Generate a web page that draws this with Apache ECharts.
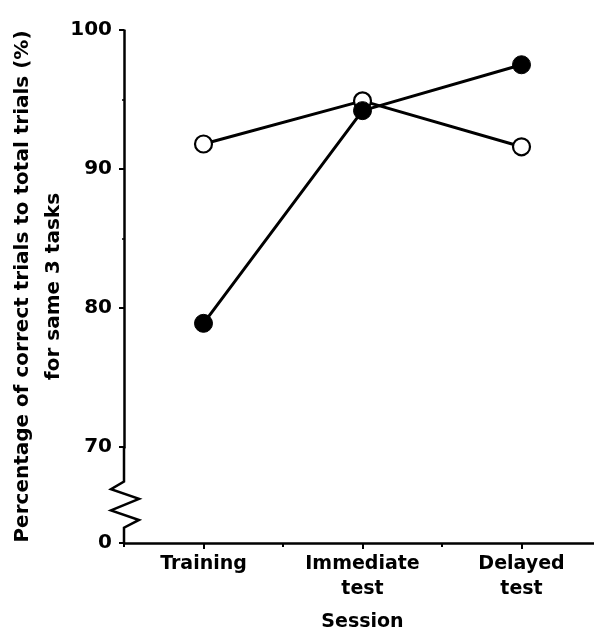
<!DOCTYPE html>
<html><head><meta charset="utf-8">
<script src="https://cdn.jsdelivr.net/npm/echarts@6/dist/echarts.min.js"></script>
<style>html,body{margin:0;padding:0;background:#fff}#c{width:594px;height:632px}</style>
</head><body><div id="c"></div>
<script>
const categories = ['Training', 'Immediate\ntest', 'Delayed\ntest'];
const openValues = [91.8, 94.9, 91.6];
const filledValues = [78.9, 94.2, 97.5];
const yTicks = [0, 70, 80, 90, 100];
const yTitle = 'Percentage of correct trials to total trials (%)\nfor same 3 tasks';
const xTitle = 'Session';

const FONT = 'DejaVu Sans';
const chart = echarts.init(document.getElementById('c'), null, {renderer: 'canvas'});
const option = {
  animation: false,
  backgroundColor: '#fff',
  grid: {left: 124, top: 30, width: 477, height: 513, outerBoundsMode: 'none', containLabel: false},
  xAxis: [{
    type: 'category', data: categories, boundaryGap: true,
    axisLine: {lineStyle: {color: '#000', width: 2.5}},
    axisTick: {show: true, alignWithLabel: true, inside: false, length: 6, lineStyle: {color: '#000', width: 2}},
    axisLabel: {color: '#000', fontFamily: FONT, fontWeight: 'bold', fontSize: 19, margin: 9, lineHeight: 25},
    name: xTitle, nameLocation: 'middle', nameGap: 70, nameMoveOverlap: false,
    nameTextStyle: {color: '#000', fontFamily: FONT, fontWeight: 'bold', fontSize: 19}
  }, {
    type: 'category', data: categories, boundaryGap: true, position: 'bottom',
    axisLine: {show: false},
    axisTick: {show: true, length: 4, lineStyle: {color: '#000', width: 2}},
    axisLabel: {show: false}
  }],
  yAxis: {
    type: 'value', min: 0, max: 100, interval: 10,
    breaks: [{start: 0, end: 70, gap: '18.7%'}],
    breakArea: {show: false},
    axisLine: {show: true, lineStyle: {color: '#000', width: 2.5}},
    axisTick: {show: true, length: 5, lineStyle: {color: '#000', width: 2}},
    minorTick: {show: true, splitNumber: 2, length: 2, lineStyle: {color: '#000', width: 1.5}},
    splitLine: {show: false},
    axisLabel: {color: '#000', fontFamily: FONT, fontWeight: 'bold', fontSize: 20, margin: 12,
      formatter: v => yTicks.includes(v) ? String(v) : ''},
    name: yTitle, nameLocation: 'middle', nameRotate: 90, nameGap: 55, nameMoveOverlap: false,
    nameTextStyle: {color: '#000', fontFamily: FONT, fontWeight: 'bold', fontSize: 20, lineHeight: 31}
  },
  series: [{
    name: 'open', type: 'line', data: openValues,
    symbol: 'circle', symbolSize: 17,
    lineStyle: {color: '#000', width: 3},
    itemStyle: {color: '#fff', borderColor: '#000', borderWidth: 2.2},
    z: 2
  }, {
    name: 'filled', type: 'line', data: filledValues,
    symbol: 'circle', symbolSize: 18,
    lineStyle: {color: '#000', width: 3},
    itemStyle: {color: '#000', borderColor: '#000', borderWidth: 1},
    z: 3
  }]
};
chart.setOption(option);

// Axis-break zigzag drawn on the y axis, positioned from the axis scale
const yTop = chart.convertToPixel({yAxisIndex: 0}, 70);
const yBot = chart.convertToPixel({yAxisIndex: 0}, 0);
const ax = chart.convertToPixel({xAxisIndex: 0}, 0) - (chart.convertToPixel({xAxisIndex: 0}, 1) - chart.convertToPixel({xAxisIndex: 0}, 0)) / 2;
const g = yBot - yTop;
const f = t => yTop + g * t;
chart.setOption({
  graphic: [{
    type: 'polyline', z: 100, silent: true,
    shape: {points: [
      [ax, yTop], [ax, f(0.36)], [ax - 13, f(0.44)], [ax + 15, f(0.54)],
      [ax - 13, f(0.66)], [ax + 15, f(0.76)], [ax, f(0.84)], [ax, yBot]
    ]},
    style: {stroke: '#000', lineWidth: 2.5, fill: null, lineJoin: 'miter'}
  }]
});
</script></body></html>
